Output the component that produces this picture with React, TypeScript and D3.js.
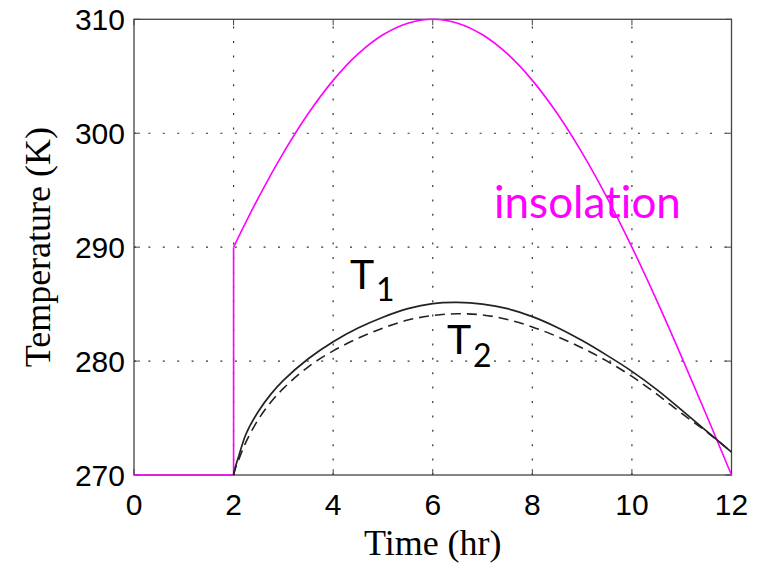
import React from "react";
import * as d3 from "d3";

// ---- data ----
const insolationTime = [0, 2, 2, 2.5, 3, 3.5, 4, 4.5, 5, 5.5, 6, 6.5, 7, 7.5, 8, 8.5, 9, 9.5, 10, 10.5, 11, 11.5, 12];
const insolationTemp = [270, 270, 290, 294.35, 298.28, 301.73, 304.64, 306.96, 308.64, 309.66, 310, 309.66, 308.64, 306.96, 304.64, 301.73, 298.28, 294.35, 290, 285.31, 280.35, 275.22, 270];

const t1Time = [2, 2.03, 2.1, 2.25, 2.5, 2.75, 3, 3.5, 4, 4.5, 5, 5.5, 6, 6.5, 7, 7.5, 8, 8.5, 9, 9.5, 10, 10.5, 11, 11.5, 12];
const t1Temp = [270, 270.6, 271.6, 273.6, 275.6, 277.1, 278.3, 280.2, 281.7, 282.9, 283.85, 284.6, 285.05, 285.15, 285.0, 284.6, 283.9, 282.95, 281.8, 280.5, 279.1, 277.5, 275.7, 273.85, 272.0];

const t2Time = [2, 2.03, 2.1, 2.25, 2.5, 2.75, 3, 3.5, 4, 4.5, 5, 5.5, 6, 6.5, 7, 7.5, 8, 8.5, 9, 9.5, 10, 10.5, 11, 11.5, 12];
const t2Temp = [270, 270.5, 271.3, 272.9, 274.9, 276.4, 277.6, 279.5, 280.9, 282.0, 282.9, 283.6, 284.0, 284.15, 284.05, 283.65, 283.0, 282.15, 281.15, 280.0, 278.65, 277.1, 275.4, 273.8, 272.0];

const xTicks = [0, 2, 4, 6, 8, 10, 12];
const yTicks = [270, 280, 290, 300, 310];

const xLabel = "Time (hr)";
const yLabel = "Temperature (K)";

export default function App() {
  const W = 763;
  const H = 565;
  const left = 134, right = 731.5, top = 19.3, bottom = 475;
  const x = d3.scaleLinear().domain([0, 12]).range([left, right]);
  const y = d3.scaleLinear().domain([270, 310]).range([bottom, top]);

  const pts = (ts: number[], vs: number[]) => ts.map((t, i) => [t, vs[i]] as [number, number]);
  const smooth = d3.line<[number, number]>().x(d => x(d[0])).y(d => y(d[1])).curve(d3.curveCatmullRom.alpha(0.5));
  const straight = d3.line<[number, number]>().x(d => x(d[0])).y(d => y(d[1]));

  const ins = pts(insolationTime, insolationTemp);
  const insStep = ins.slice(0, 3);
  const insCurve = ins.slice(2);

  const gridColor = "#333";
  const frame = "#444";
  const tickLen = 6;
  const sans = "'Liberation Sans', Arial, sans-serif";
  const serif = "'Liberation Serif', 'Times New Roman', serif";
  const anno = "Lato, 'Open Sans', sans-serif";
  const noLig = { fontVariantLigatures: "none" as const, fontFeatureSettings: '"liga" 0, "clig" 0' };

  return (
    <svg width={W} height={H} style={{ position: "absolute", left: 0, top: 0, background: "#fff" }}>
      <rect x={0} y={0} width={W} height={H} fill="#fff" />
      {/* grid */}
      {xTicks.filter(t => t > 0 && t < 12).map(t => (
        <line key={"gx" + t} x1={x(t)} x2={x(t)} y1={bottom} y2={top} stroke={gridColor} strokeWidth={1.2} strokeDasharray="2,12.4" />
      ))}
      {yTicks.filter(v => v > 270 && v < 310).map(v => (
        <line key={"gy" + v} x1={left} x2={right} y1={y(v)} y2={y(v)} stroke={gridColor} strokeWidth={1.2} strokeDasharray="2,12.4" />
      ))}
      {/* ticks inward on all sides */}
      {xTicks.map(t => (
        <g key={"tx" + t}>
          <line x1={x(t)} x2={x(t)} y1={bottom} y2={bottom - tickLen} stroke={frame} strokeWidth={1} />
          <line x1={x(t)} x2={x(t)} y1={top} y2={top + tickLen} stroke={frame} strokeWidth={1} />
        </g>
      ))}
      {yTicks.map(v => (
        <g key={"ty" + v}>
          <line x1={left} x2={left + tickLen} y1={y(v)} y2={y(v)} stroke={frame} strokeWidth={1} />
          <line x1={right} x2={right - tickLen} y1={y(v)} y2={y(v)} stroke={frame} strokeWidth={1} />
        </g>
      ))}
      {/* frame */}
      <rect x={left} y={top} width={right - left} height={bottom - top} fill="none" stroke={frame} strokeWidth={1.3} />
      {/* series */}
      <path d={straight(insStep) || ""} fill="none" stroke="#ff00ff" strokeWidth={1.6} />
      <path d={smooth(insCurve) || ""} fill="none" stroke="#ff00ff" strokeWidth={1.6} />
      <path d={smooth(pts(t2Time, t2Temp)) || ""} fill="none" stroke="#222" strokeWidth={1.6} strokeDasharray="10,6" />
      <path d={smooth(pts(t1Time, t1Temp)) || ""} fill="none" stroke="#222" strokeWidth={1.7} />
      {/* tick labels */}
      {xTicks.map(t => (
        <text key={"lx" + t} x={x(t)} y={515} textAnchor="middle" fontFamily={sans} fontSize={30} fill="#000">{t}</text>
      ))}
      {yTicks.map(v => (
        <text key={"ly" + v} x={125} y={y(v) + 11} textAnchor="end" fontFamily={sans} fontSize={30} fill="#000">{v}</text>
      ))}
      {/* axis labels */}
      <text x={(left + right) / 2} y={555} textAnchor="middle" fontFamily={serif} fontSize={36} fill="#000">{xLabel}</text>
      <text transform={`translate(50,${(top + bottom) / 2}) rotate(-90)`} textAnchor="middle" fontFamily={serif} fontSize={36} fill="#000">{yLabel}</text>
      {/* annotations */}
      <text x={494} y={218} fontFamily={anno} fontSize={44} fill="#ff00ff" style={noLig}>insolation</text>
      <text x={350} y={289} fontFamily={anno} fontSize={41} fill="#000">T</text>
      <text x={376} y={300.5} fontFamily={anno} fontSize={32} fill="#000">1</text>
      <text x={447} y={353.5} fontFamily={anno} fontSize={41} fill="#000">T</text>
      <text x={473} y={366.5} fontFamily={anno} fontSize={32} fill="#000">2</text>
    </svg>
  );
}
